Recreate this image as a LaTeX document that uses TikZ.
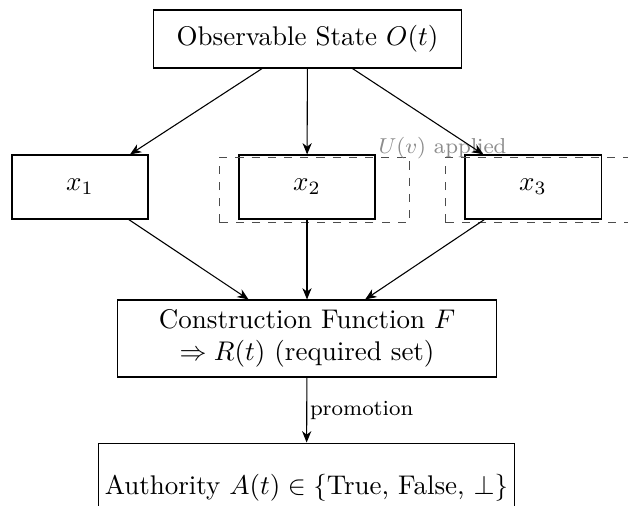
\documentclass[tikz,border=0pt]{standalone}
\usetikzlibrary{arrows.meta}
\begin{document}
\begin{tikzpicture}[x=0.37037pt,y=-0.37037pt,
  box/.style={draw, line width=0.4pt, inner sep=0pt, align=center},
  conn/.style={-{Stealth[length=4.2pt,width=3.4pt,inset=1.3pt]}},
  dashbox/.style={draw=black!70, line width=0.55pt, dashed},
  lbl/.style={font=\footnotesize}]
\useasboundingbox (0,0) rectangle (628,506);
\clip (0,0) rectangle (628,506);
\node[box, minimum width=114.4pt, minimum height=21.5pt] (O) at (307.5,39) {Observable State $O(t)$};
\node[box, minimum width=50.4pt, minimum height=23.7pt] (x1) at (80,187) {$x_1$};
\node[box, minimum width=50.4pt, minimum height=23.7pt] (x2) at (307,187) {$x_2$};
\node[box, minimum width=50.4pt, minimum height=23.7pt] (x3) at (533,187) {$x_3$};
\node[box, minimum width=140.7pt, minimum height=28.5pt] (F) at (307,338.5) {Construction Function $F$\\ $\Rightarrow R(t)$ (required set)};
\node[box, minimum width=154pt, minimum height=33.3pt] (A) at (306.5,488) {Authority $A(t) \in \{$True, False, $\bot\}$};
\draw[dashbox] ([shift={(-7pt,-1.1pt)}]x2.south west) rectangle ([shift={(12.6pt,-1.1pt)}]x2.north east);
\draw[dashbox] ([shift={(-7pt,-1.1pt)}]x3.south west) rectangle ([shift={(12.6pt,-1.1pt)}]x3.north east);
\coordinate (lab) at (378,153);
\node[lbl, text=black!45, anchor=base west, inner sep=0pt] (U) at (lab) {$U(v)$ applied};
\draw[conn] (O) -- (x1);
\draw[conn] (O) -- (x2);
\draw[conn] (O) -- (x3);
\draw[conn] (x1) -- (F);
\draw[conn] (x2) -- (F);
\draw[conn] (x3) -- (F);
\draw[conn] (F) -- node[lbl, midway, anchor=west, inner sep=1pt] (P) {promotion} (A);
\end{tikzpicture}
\end{document}
